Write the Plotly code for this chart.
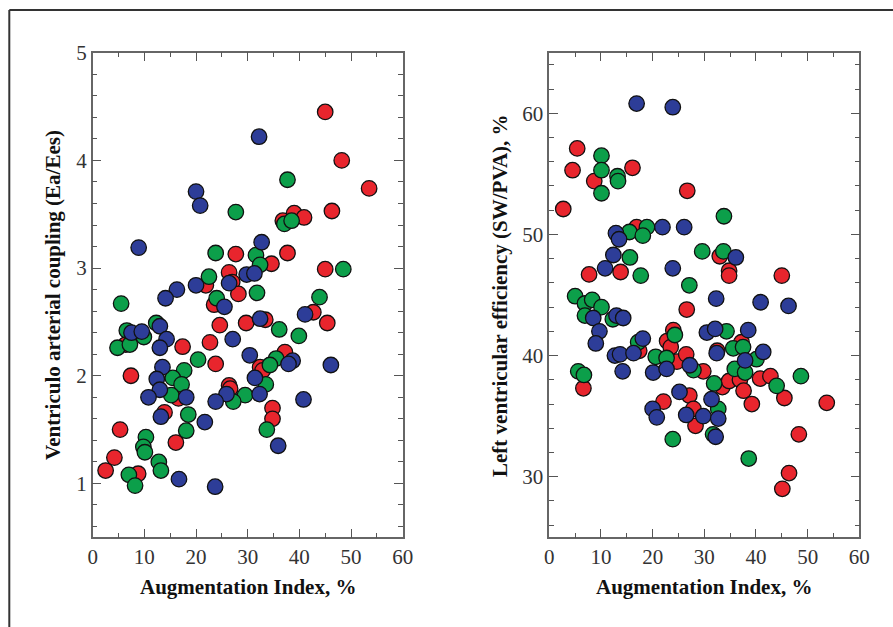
import plotly.graph_objects as go

# ---------------- data ----------------
# Left panel: Augmentation Index (%) vs Ventriculo-arterial coupling (Ea/Ees)
left_red_x = [45.0, 48.2, 53.5, 46.3, 36.8, 39.0, 40.9, 27.7, 34.6, 37.7, 45.0, 26.4, 21.9, 27.0, 28.2,
              23.5, 42.7, 24.6, 29.7, 33.4, 45.4, 37.2, 32.4, 32.9, 34.8, 34.8, 6.4, 17.4, 22.7, 23.8,
              7.4, 16.6, 26.4, 26.6, 13.9, 5.3, 16.1, 4.2, 2.5, 8.8]
left_red_y = [4.45, 4.00, 3.74, 3.53, 3.44, 3.51, 3.47, 3.13, 3.04, 3.14, 2.99, 2.96, 2.84, 2.87, 2.76,
              2.66, 2.59, 2.47, 2.49, 2.52, 2.49, 2.22, 2.08, 2.05, 1.70, 1.60, 2.29, 2.27, 2.31, 2.11,
              2.00, 1.79, 1.91, 1.88, 1.66, 1.50, 1.38, 1.24, 1.12, 1.09]

left_green_x = [37.7, 27.7, 37.1, 38.5, 23.8, 31.6, 32.4, 48.5, 22.5, 31.8, 5.5, 24.0, 43.9, 12.3, 36.1,
                39.9, 35.5, 34.3, 33.5, 29.5, 33.7, 6.6, 9.9, 4.8, 7.2, 20.4, 17.7, 15.5, 17.2, 15.2,
                27.2, 18.5, 18.1, 10.3, 9.8, 10.1, 12.8, 13.2, 7.0, 8.2]
left_green_y = [3.82, 3.52, 3.41, 3.44, 3.14, 3.12, 3.03, 2.99, 2.92, 2.77, 2.67, 2.72, 2.73, 2.49, 2.43,
                2.37, 2.16, 2.10, 1.92, 1.82, 1.50, 2.42, 2.36, 2.26, 2.29, 2.15, 2.05, 1.98, 1.92, 1.82,
                1.76, 1.64, 1.49, 1.43, 1.34, 1.29, 1.20, 1.12, 1.08, 0.98]

left_blue_x = [32.2, 20.0, 20.8, 8.9, 32.7, 29.8, 31.3, 20.0, 26.4, 16.3, 14.1, 25.5, 41.1, 13.0, 32.4,
               30.4, 38.7, 37.9, 46.1, 31.4, 32.3, 40.8, 35.9, 7.5, 9.5, 14.3, 13.0, 27.1, 13.5, 12.4,
               13.0, 18.1, 10.8, 25.9, 23.8, 13.2, 21.7, 16.7, 23.7]
left_blue_y = [4.22, 3.71, 3.58, 3.19, 3.24, 2.94, 2.95, 2.84, 2.86, 2.80, 2.72, 2.64, 2.57, 2.46, 2.53,
               2.19, 2.14, 2.11, 2.10, 1.98, 1.83, 1.78, 1.35, 2.40, 2.41, 2.34, 2.26, 2.34, 2.08, 1.97,
               1.87, 1.80, 1.80, 1.83, 1.76, 1.62, 1.57, 1.04, 0.97]

# Right panel: Augmentation Index (%) vs LV efficiency (SW/PVA, %)
right_red_x = [5.4, 4.5, 8.7, 16.1, 26.7, 2.7, 16.9, 33.0, 34.8, 34.8, 7.7, 13.8, 45.0, 26.6, 6.6,
               17.4, 22.8, 24.0, 23.5, 24.7, 26.5, 29.8, 32.5, 33.5, 34.8, 37.2, 36.9, 37.6, 39.2, 40.8,
               42.8, 45.5, 53.7, 48.3, 46.4, 45.1, 27.1, 22.1, 27.9, 28.3]
right_red_y = [57.1, 55.3, 54.4, 55.5, 53.6, 52.1, 50.6, 48.2, 47.0, 46.6, 46.7, 46.9, 46.6, 43.8, 37.3,
               40.4, 41.2, 42.1, 40.7, 39.5, 40.1, 38.7, 40.4, 37.4, 37.9, 41.1, 38.0, 37.1, 36.0, 38.1,
               38.3, 36.5, 36.1, 33.5, 30.3, 29.0, 36.7, 36.2, 35.6, 34.2]

right_green_x = [10.1, 10.1, 10.1, 13.2, 13.3, 33.8, 18.9, 15.5, 18.1, 15.6, 29.6, 33.7, 17.7, 27.1, 5.0,
                 6.9, 8.3, 10.1, 6.9, 12.3, 5.6, 6.7, 17.2, 20.6, 22.7, 24.3, 27.9, 34.3, 31.9, 35.6,
                 37.5, 35.9, 37.9, 40.1, 44.0, 48.7, 38.6, 32.7, 31.7, 23.9]
right_green_y = [56.5, 55.3, 53.4, 54.8, 54.4, 51.5, 50.6, 50.2, 49.9, 48.1, 48.6, 48.6, 46.6, 45.8, 44.9,
                 44.3, 44.6, 44.0, 43.3, 43.0, 38.7, 38.4, 41.1, 39.9, 39.8, 41.7, 38.8, 42.0, 37.7, 40.6,
                 40.7, 38.9, 38.6, 39.7, 37.5, 38.3, 31.5, 35.6, 33.5, 33.1]

right_blue_x = [16.9, 23.9, 21.9, 26.1, 12.9, 13.5, 12.4, 36.1, 10.8, 23.9, 32.3, 40.9, 46.3, 8.5, 9.7,
                9.0, 13.0, 14.3, 12.7, 13.7, 14.2, 16.3, 18.1, 20.1, 22.7, 27.2, 30.5, 32.1, 32.4, 38.5,
                37.9, 41.4, 25.2, 20.0, 20.8, 26.5, 29.8, 31.4, 32.7, 32.2]
right_blue_y = [60.8, 60.5, 50.6, 50.6, 50.1, 49.6, 48.3, 48.1, 47.2, 47.2, 44.7, 44.4, 44.1, 43.1, 42.0,
                41.0, 43.3, 43.1, 40.0, 40.1, 38.7, 40.2, 41.4, 38.6, 38.9, 39.2, 41.9, 42.2, 40.2, 42.1,
                39.6, 40.3, 37.0, 35.6, 34.9, 35.1, 35.0, 36.4, 34.8, 33.3]

x_title = "Augmentation Index, %"
left_y_title = "Ventriculo arterial coupling (Ea/Ees)"
right_y_title = "Left ventricular efficiency (SW/PVA), %"

RED = "#E8252D"
GREEN = "#0C9F4A"
BLUE = "#2D3D98"

W, H = 893, 627
SERIF = "'Liberation Serif', 'Times New Roman', serif"

fig = go.Figure()

def add(xs, ys, color, xa, ya):
    fig.add_trace(go.Scatter(
        x=xs, y=ys, mode="markers", xaxis=xa, yaxis=ya, showlegend=False,
        marker=dict(size=15.5, color=color, line=dict(color="#111111", width=1.3)),
    ))

add(left_red_x, left_red_y, RED, "x", "y")
add(left_green_x, left_green_y, GREEN, "x", "y")
add(left_blue_x, left_blue_y, BLUE, "x", "y")
add(right_red_x, right_red_y, RED, "x2", "y2")
add(right_green_x, right_green_y, GREEN, "x2", "y2")
add(right_blue_x, right_blue_y, BLUE, "x2", "y2")

def px_x(p):
    return p / W

def px_y(p):
    return 1 - p / H

axis_common = dict(
    showline=True, linecolor="#666666", linewidth=1.5, mirror="ticks",
    ticks="inside", ticklen=9, tickwidth=1.3, tickcolor="#555555",
    showgrid=False, zeroline=False, automargin=False,
    tickfont=dict(family=SERIF, size=21, color="#333333"),
    minor=dict(ticks="inside", ticklen=5, tickwidth=1.2, tickcolor="#555555", showgrid=False),
)

top = 52.7
bottom = 537.3

fig.update_layout(
    template="none",
    width=W, height=H, autosize=False,
    margin=dict(l=0, r=0, t=0, b=0, pad=0, autoexpand=False),
    paper_bgcolor="white", plot_bgcolor="white",
    xaxis=dict(domain=[px_x(92.7), px_x(402.7)], range=[0, 60], dtick=10, tick0=0,
               anchor="y", **axis_common),
    yaxis=dict(domain=[px_y(bottom), px_y(top)], range=[0.5, 5], dtick=1, tick0=0,
               anchor="x", **axis_common),
    xaxis2=dict(domain=[px_x(549.3), px_x(859.3)], range=[0, 60], dtick=10, tick0=0,
                anchor="y2", **axis_common),
    yaxis2=dict(domain=[px_y(bottom), px_y(top)], range=[25, 65], dtick=10, tick0=0,
                anchor="x2", **axis_common),
)
fig.update_xaxes(minor_dtick=5)
fig.update_yaxes(selector=dict(anchor="x"), minor_dtick=0.2)
fig.update_yaxes(selector=dict(anchor="x2"), minor_dtick=2)

title_font = dict(family=SERIF, size=21, color="#111111")
fig.add_annotation(text="<b>%s</b>" % x_title, xref="paper", yref="paper",
                   x=px_x(247.7), y=px_y(587), showarrow=False, font=title_font,
                   xanchor="center", yanchor="middle")
fig.add_annotation(text="<b>%s</b>" % x_title, xref="paper", yref="paper",
                   x=px_x(704.3), y=px_y(587), showarrow=False, font=title_font,
                   xanchor="center", yanchor="middle")
fig.add_annotation(text="<b>%s</b>" % left_y_title, xref="paper", yref="paper",
                   x=px_x(53), y=px_y(295), showarrow=False, font=title_font, textangle=-90,
                   xanchor="center", yanchor="middle")
fig.add_annotation(text="<b>%s</b>" % right_y_title, xref="paper", yref="paper",
                   x=px_x(500), y=px_y(296), showarrow=False, font=title_font, textangle=-90,
                   xanchor="center", yanchor="middle")

# outer frame (top and left edges visible)
fig.add_shape(type="line", xref="paper", yref="paper", x0=px_x(9.3), x1=1.0,
              y0=px_y(10), y1=px_y(10), line=dict(color="#333333", width=2))
fig.add_shape(type="line", xref="paper", yref="paper", x0=px_x(9.3), x1=px_x(9.3),
              y0=px_y(10), y1=0.0, line=dict(color="#333333", width=2))

fig.write_html("out.html")
